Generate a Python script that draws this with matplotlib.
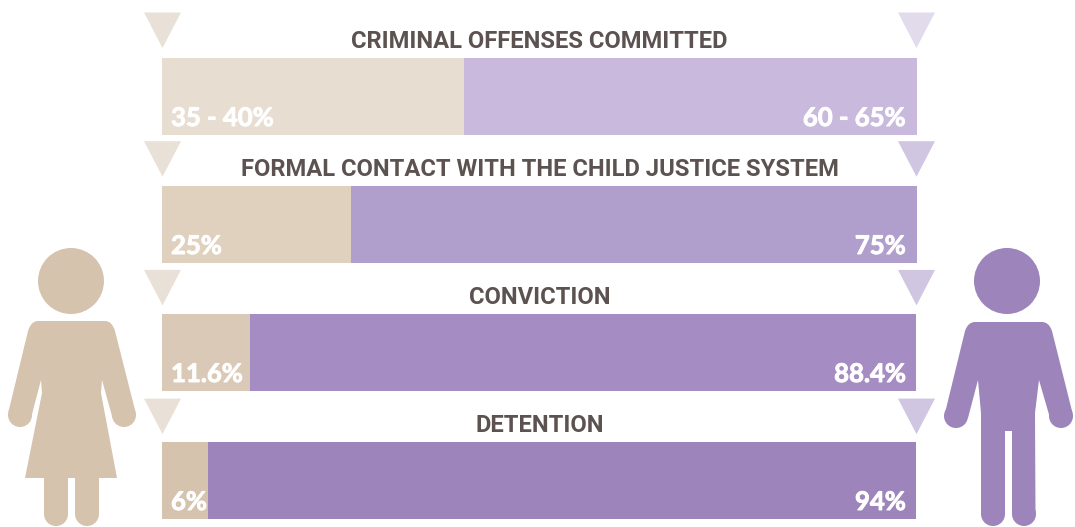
#!/usr/bin/env python
# gender split at each stage of the child justice system, with pictograms
import matplotlib
matplotlib.use('Agg')
import matplotlib.pyplot as plt
import matplotlib.patheffects as pe
from matplotlib.patches import Circle, PathPatch, Polygon
from matplotlib.path import Path

stages = ['CRIMINAL OFFENSES COMMITTED', 'FORMAL CONTACT WITH THE CHILD JUSTICE SYSTEM', 'CONVICTION', 'DETENTION']
girls = [40, 25, 11.6, 6.1]
boys = [60, 75, 88.3, 93.8]
girl_labels = ['35 - 40%', '25%', '11.6%', '6%']
boy_labels = ['60 - 65%', '75%', '88.4%', '94%']

girl_colors = ['#e8ddd1', '#e0d0be', '#dac9b6', '#d5c3ae']
boy_colors = ['#c8b9dd', '#b09fcc', '#a58dc3', '#9d84bb']
tri_left_colors = ['#e9e1d7', '#e9e1d7', '#e9e1d7', '#e9e1d7']
tri_right_colors = ['#e2dbec', '#d0c6e1', '#d0c6e1', '#d0c6e1']
FEMALE = '#d5c3ae'
MALE = '#9d84bb'
TITLE = '#5c5350'

W, H = 1075, 527
plt.rcParams['font.family'] = ['Lato', 'DejaVu Sans']

fig = plt.figure(figsize=(W / 100, H / 100), dpi=100)

# pixel overlay for the triangles and the figures
px = fig.add_axes([0, 0, 1, 1])
px.set_xlim(0, W)
px.set_ylim(H, 0)
px.axis('off')

# bars, x in percent
ax = fig.add_axes([162 / W, 0, 755 / W, 1])
ax.set_xlim(0, 100)
ax.set_ylim((H - 96.5) / 128, -96.5 / 128)
ax.axis('off')
ax.patch.set_alpha(0)

rows = list(range(len(stages)))
ax.barh(rows, girls, height=0.6, color=girl_colors, linewidth=0)
ax.barh(rows, boys, left=girls, height=0.6, color=boy_colors, linewidth=0)

# the reference face is heavier than anything installed, thicken it a little
heavy = [pe.withStroke(linewidth=0.7, foreground='white')]

for i in rows:
    ax.annotate(girl_labels[i], (0, i), xytext=(9, -29.5), textcoords='offset pixels',
                color='white', fontsize=18.5, fontweight='bold', ha='left', va='baseline',
                path_effects=heavy)
    ax.annotate(boy_labels[i], (100, i), xytext=(-11, -29.5), textcoords='offset pixels',
                color='white', fontsize=18.5, fontweight='bold', ha='right', va='baseline',
                path_effects=heavy)
    ax.annotate(stages[i], (50, i), xytext=(0, 48.5), textcoords='offset pixels',
                color=TITLE, fontsize=17.1, fontweight='bold', ha='center', va='baseline',
                family=['Roboto', 'DejaVu Sans'], annotation_clip=False)

    top = 12.5 + 128.7 * i
    px.add_patch(Polygon([(144, top), (181, top), (162.5, top + 35.5)], closed=True,
                         facecolor=tri_left_colors[i], linewidth=0))
    px.add_patch(Polygon([(898, top), (935, top), (916.5, top + 35.5)], closed=True,
                         facecolor=tri_right_colors[i], linewidth=0))


def figure_patch(points, color):
    # points: plain vertices, a tuple with a control point marks a curve
    verts = []
    codes = []
    for p in points:
        if len(p) == 4:
            verts += [(p[0], p[1]), (p[2], p[3])]
            codes += [Path.CURVE3, Path.CURVE3]
        else:
            verts.append(p)
            codes.append(Path.LINETO if verts[:-1] else Path.MOVETO)
    verts.append(verts[0])
    codes.append(Path.CLOSEPOLY)
    px.add_patch(PathPatch(Path(verts, codes), facecolor=color, linewidth=0))


# female
px.add_patch(Circle((71, 281), 33, facecolor=FEMALE, linewidth=0))
figure_patch([(38, 321), (105, 321), (112, 321, 115, 331), (135.5, 412), (112.5, 418), (102, 380), (101, 393),
              (117, 478), (99, 478), (99, 514), (75, 514), (75, 478), (68, 478), (68, 514), (44, 514), (44, 478),
              (25, 478), (42, 393), (41, 380), (31, 418), (8.4, 412), (28, 331), (31, 321, 38, 321)], FEMALE)
for c in [(20, 415), (124, 415), (56, 514), (87, 514)]:
    px.add_patch(Circle(c, 12, facecolor=FEMALE, linewidth=0))

# male
px.add_patch(Circle((1007, 281), 33, facecolor=MALE, linewidth=0))
figure_patch([(975, 322), (1042, 322), (1049, 322, 1052, 331), (1072.5, 413), (1050, 418), (1039, 380), (1035, 413),
              (1035.5, 514), (1012, 514), (1012, 431), (1005, 431), (1005, 514), (981, 514), (981, 413), (978, 380),
              (968, 418), (945, 413), (965, 331), (968, 322, 975, 322)], MALE)
for c in [(956, 416), (1061, 416), (993, 514), (1024, 514)]:
    px.add_patch(Circle(c, 12, facecolor=MALE, linewidth=0))

plt.savefig('out.png', dpi=100)
